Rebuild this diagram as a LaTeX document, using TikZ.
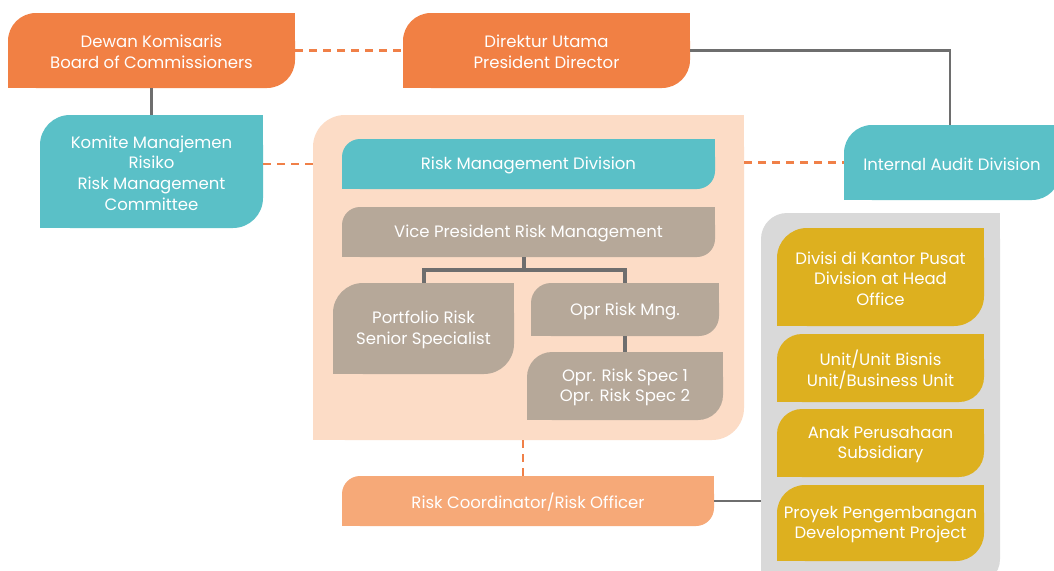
\documentclass[tikz,border=0pt]{standalone}
\usepackage{fontspec}
\setmainfont{Poppins}
\usetikzlibrary{calc}
\definecolor{cOrange}{HTML}{F18044}
\definecolor{cTeal}{HTML}{5AC0C7}
\definecolor{cPeach}{HTML}{FCDCC6}
\definecolor{cTaupe}{HTML}{B6A899}
\definecolor{cYellow}{HTML}{DDB01F}
\definecolor{cGrey}{HTML}{D9D9D9}
\definecolor{cLight}{HTML}{F6A978}
\definecolor{cLine}{HTML}{6E6E6E}
\definecolor{cDash}{HTML}{F08048}
\tikzset{
  boxshape/.style={inner sep=0pt},
  boxtext/.style={text=white, align=center, inner sep=0pt, font=\fontsize{16.5}{20.6}\selectfont},
  dashcon/.style={draw=cDash, line width=2.5pt, dash pattern=on 8pt off 6pt},
  solidcon/.style={draw=cLine, line width=2.5pt},
  treecon/.style={draw=cLine, line width=4pt},
}
\newcommand\leafbox[8]{%
  \fill[#2,rounded corners=#7pt] (#3,#4) rectangle (#5,#6);
  \fill[#2] ({#5-#7},{#4}) rectangle ({#5},{#4+#7});
  \fill[#2] ({#3},{#6-#7}) rectangle ({#3+#7},{#6});
  \node[boxshape, minimum width={(#5-#3)*1pt}, minimum height={(#6-#4)*1pt}] (#1) at ({(#3+#5)/2},{(#4+#6)/2}) {};
  \node[boxtext] (#1-t) at ([yshift=-1.5pt]#1.center) {#8};
}
\begin{document}
\begin{tikzpicture}[x=1pt,y=-1pt]
\clip (0,0) rectangle (1054,570);
\fill[white] (0,0) rectangle (1054,570);
% containers
\leafbox{cont}{cPeach}{313}{115}{744}{440}{32}{}
\leafbox{grey}{cGrey}{761}{213}{1000}{585}{26}{}
% top row
\leafbox{dewan}{cOrange}{8}{13}{295}{88}{28}{Dewan Komisaris\\Board of Commissioners}
\leafbox{direktur}{cOrange}{403}{13}{690}{88}{28}{Direktur Utama\\President Director}
\leafbox{komite}{cTeal}{40}{115}{263}{228}{30}{Komite Manajemen\\Risiko\\Risk Management\\Committee}
\leafbox{audit}{cTeal}{844}{125}{1060}{200}{28}{Internal Audit Division}
% inside peach
\leafbox{rmd}{cTeal}{342}{139}{715}{189}{18}{Risk Management Division}
\leafbox{vp}{cTaupe}{342}{207}{715}{257}{18}{Vice President Risk Management}
\leafbox{port}{cTaupe}{333}{283}{514}{374}{30}{Portfolio Risk\\Senior Specialist}
\leafbox{opr}{cTaupe}{531}{283}{719}{336}{20}{Opr Risk Mng.}
\leafbox{spec}{cTaupe}{527}{352}{723}{420}{25}{Opr. Risk Spec 1\\Opr. Risk Spec 2}
% coordinator
\leafbox{rc}{cLight}{342}{476}{714}{526}{18}{Risk Coordinator/Risk Officer}
% yellow
\leafbox{y1}{cYellow}{777}{228}{984}{326}{30}{Divisi di Kantor Pusat\\Division at Head\\Office}
\leafbox{y2}{cYellow}{777}{334}{984}{402}{25}{Unit/Unit Bisnis\\Unit/Business Unit}
\leafbox{y3}{cYellow}{777}{409}{984}{477}{25}{Anak Perusahaan\\Subsidiary}
\leafbox{y4}{cYellow}{777}{485}{984}{561}{28}{Proyek Pengembangan\\Development Project}
% connectors
\draw[dashcon] (dewan.east) -- (direktur.west);
\draw[solidcon] (dewan.south) -- (dewan.south |- komite.north);
\coordinate (ax) at (950,0);
\draw[solidcon] (direktur.east) -| (ax |- audit.north);
\draw[dashcon] (komite.east |- rmd.west) -- (cont.west |- rmd.west);
\draw[dashcon] (cont.east |- audit.west) -- (audit.west);
\coordinate (tv) at (524,270);
\draw[treecon] (tv |- vp.south) -- (tv);
\draw[treecon] (port.north) -- (port.north |- tv) -- (opr.north |- tv) -- (opr.north);
\draw[treecon] (opr.south) -- (opr.south |- spec.north);
\coordinate (dv) at (523,0);
\draw[dashcon] (dv |- cont.south) -- (dv |- rc.north);
\draw[solidcon] (rc.east) -- (rc.east -| grey.west);
\end{tikzpicture}
\end{document}
